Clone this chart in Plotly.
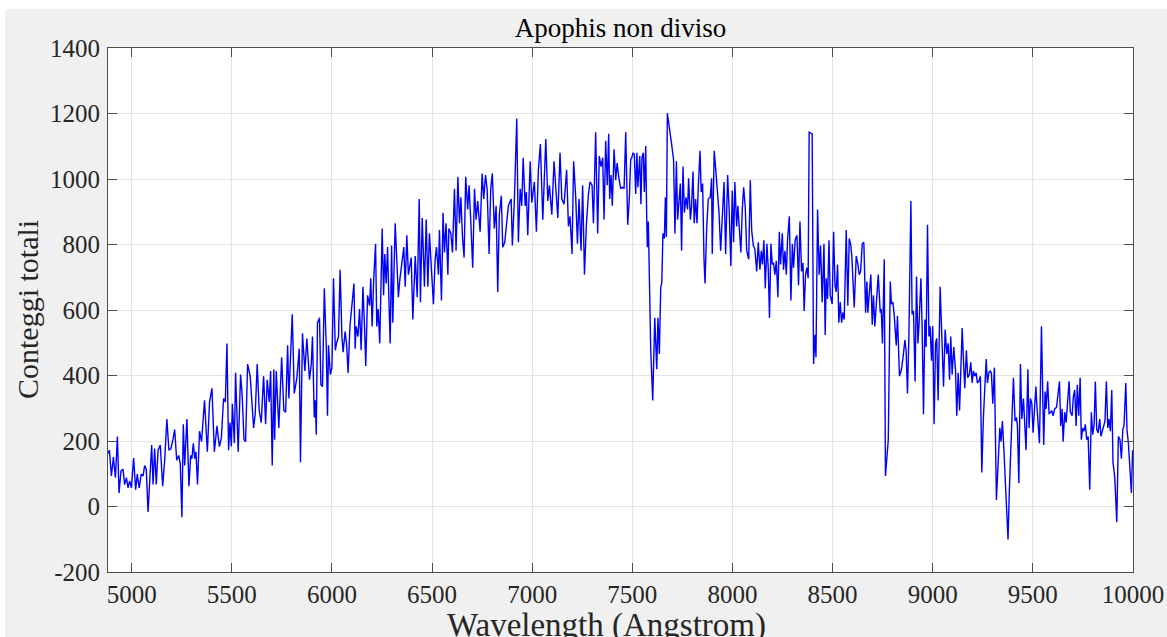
import plotly.graph_objects as go

# (wavelength [Angstrom], total counts), in segments
seg1 = [(4882,162),(4889,172),(4899,93),(4909,151),(4919,88),(4929,214),(4937,41),(4947,109),(4957,114),(4965,67),(4974,88),(4982,57),(4990,78),(4999,57),(5010,148),(5020,51),(5028,99),(5038,57),(5048,99),(5057,93),(5065,125),(5073,114),(5082,-17),(5090,88),(5100,188),(5107,67),(5115,177),(5123,67),(5132,172),(5143,188),(5155,62),(5165,141),(5176,267),(5186,172),(5196,177),(5206,204),(5215,235),(5225,141),(5235,156),(5243,130),(5251,-33),(5258,251),(5265,125),(5276,267),(5286,62),(5295,156),(5301,146),(5308,193),(5315,146),(5321,167),(5329,67),(5339,230),(5349,198),(5364,324),(5378,167),(5389,319)]
seg2 = [(5401,361),(5413,167),(5426,246),(5438,183),(5448,209),(5459,330),(5468,319),(5476,498),(5484,172),(5491,256),(5498,183),(5503,314),(5513,193),(5519,408),(5532,167),(5544,403),(5552,340),(5561,204),(5569,198),(5579,435),(5592,398),(5609,240),(5617,282),(5627,435),(5637,293),(5647,256),(5659,398),(5669,251),(5677,387),(5687,319),(5694,414),(5702,125),(5710,419),(5714,204),(5722,414),(5735,240),(5749,456),(5760,293),(5769,288),(5779,492),(5785,330),(5802,587),(5812,345),(5825,393),(5837,482),(5843,135),(5853,529),(5865,414),(5875,513),(5888,387)]
seg3 = [(5897,435),(5903,519),(5912,272),(5917,324),(5922,219),(5928,561),(5938,576),(5945,372),(5953,366),(5962,666),(5972,487),(5978,277),(5983,492),(5992,403),(6000,424),(6008,697),(6017,477),(6023,498),(6033,519),(6041,723),(6050,519),(6056,471),(6066,534),(6073,498),(6081,408),(6090,550),(6098,608),(6110,681),(6116,482),(6121,550),(6130,519),(6138,603),(6146,477),(6155,671),(6163,545),(6169,429),(6178,645),(6188,613),(6194,697),(6201,550),(6209,697),(6218,802),(6224,550),(6231,603),(6239,498),(6251,849),(6258,645),(6264,771),(6271,681),(6278,792),(6284,645),(6291,498),(6298,797),(6304,561),(6316,865),(6322,771),(6332,639),(6339,692),(6347,734),(6359,792),(6366,671),(6374,828),(6382,708)]
seg4 = [(6396,760),(6404,571),(6416,765),(6426,639),(6436,939),(6442,624),(6451,881),(6462,671),(6471,876),(6479,671),(6487,834),(6496,734),(6507,618),(6515,750),(6522,792),(6532,708),(6537,844),(6547,629),(6555,897),(6562,776),(6570,865),(6579,708),(6584,849),(6594,834),(6602,776),(6612,970),(6620,781),(6629,1007),(6637,865),(6644,944),(6652,823),(6660,760),(6668,1007),(6678,907),(6685,981),(6693,876),(6703,729),(6712,970),(6720,876),(6728,933),(6740,839),(6750,1017),(6758,939),(6767,1012),(6775,970),(6785,771),(6793,970),(6801,1017),(6811,849),(6820,918),(6828,655),(6836,891),(6846,949),(6853,792),(6863,807),(6870,849),(6881,918)]
seg5 = [(6895,939),(6901,797),(6911,933),(6923,1185),(6931,807),(6940,970),(6948,918),(6955,1065),(6965,918),(6971,960),(6978,828),(6990,1054),(6998,928),(7011,991),(7021,839),(7031,1028),(7041,1107),(7053,876),(7068,1122),(7078,933),(7086,981),(7098,891),(7109,1054),(7119,960),(7128,881),(7139,1080),(7148,939),(7159,923),(7172,1028),(7181,855),(7189,886),(7199,771),(7207,1054),(7217,949),(7226,802),(7234,939),(7244,781),(7252,981),(7261,708),(7271,865),(7281,954),(7289,991),(7299,981),(7306,865),(7317,1143),(7327,834),(7335,1070),(7344,1038),(7352,1065),(7359,876),(7367,1117),(7375,981),(7382,1138)]
seg6 = [(7387,939),(7394,1012),(7400,918),(7409,1091),(7417,996),(7424,1049),(7432,1007),(7442,970),(7450,975),(7459,970),(7467,1143),(7477,860),(7485,939),(7492,1059),(7497,1065),(7504,1080),(7510,1075),(7517,954),(7523,1080),(7528,975),(7537,1070),(7543,923),(7548,1065),(7555,1080),(7560,960),(7567,1101),(7572,876),(7575,792),(7580,870),(7585,687),(7592,477),(7602,324),(7612,576),(7622,419),(7628,576),(7635,466),(7642,671),(7647,681),(7653,834),(7660,818),(7665,944),(7670,823),(7675,1201),(7696,1107),(7706,1059),(7713,834),(7720,1054),(7726,876),(7733,928),(7740,986),(7746,781),(7753,1038),(7760,897),(7768,944),(7776,907),(7781,1002),(7790,876),(7796,918),(7803,1023),(7809,865),(7816,939),(7823,865),(7829,970),(7838,1086),(7844,960),(7851,986),(7858,755),(7863,681),(7871,844),(7879,939)]
seg7 = [(7889,944),(7896,1002),(7899,771),(7909,1086),(7918,1017),(7926,939),(7933,897),(7941,781),(7949,902),(7958,991),(7966,771),(7976,1012),(7984,897),(7992,734),(7999,965),(8006,807),(8012,991),(8021,855),(8027,918),(8034,849),(8042,776),(8049,907),(8056,975),(8064,912),(8071,781),(8081,755),(8089,996),(8096,844),(8104,797),(8112,786),(8121,718),(8129,807),(8137,723),(8144,781),(8150,739),(8157,813),(8164,666),(8172,802),(8179,723),(8185,576),(8192,802),(8199,739),(8205,744),(8212,708),(8219,750),(8227,639),(8234,839),(8240,739),(8249,834),(8255,723),(8262,781),(8269,708),(8275,813),(8284,886),(8292,629),(8299,802),(8305,729),(8313,813),(8322,828),(8330,676),(8337,870),(8345,718),(8352,744),(8358,597),(8365,708),(8372,729),(8378,697),(8383,1143)]
seg8 = [(8398,1138),(8405,435),(8412,524),(8417,456),(8425,907),(8433,708),(8440,797),(8448,624),(8457,802),(8463,524),(8468,697),(8475,634),(8482,813),(8488,645),(8498,618),(8505,839),(8512,676),(8518,655),(8525,739),(8531,561),(8538,624),(8545,561),(8551,592),(8558,571),(8568,844),(8576,613),(8583,818),(8590,802),(8596,765),(8608,608),(8618,765),(8625,744),(8633,708),(8640,718),(8648,802),(8656,807),(8665,592),(8671,687),(8676,592),(8683,650),(8691,708),(8698,555),(8704,645),(8711,550),(8719,613),(8728,708),(8738,592),(8743,603),(8749,498),(8758,755),(8764,93),(8778,204),(8788,687),(8794,618),(8801,624),(8808,582),(8818,492),(8824,582),(8834,398),(8844,419),(8852,456),(8861,508),(8867,477),(8874,345),(8881,519)]
seg9 = [(8884,687),(8891,933),(8897,587),(8904,597),(8912,382),(8919,702),(8926,498),(8932,561),(8941,697),(8947,550),(8954,282),(8961,571),(8967,487),(8974,860),(8981,519),(8987,550),(8994,445),(9000,550),(9007,251),(9014,498),(9020,513),(9027,324),(9037,671),(9045,487),(9054,366),(9062,540),(9070,466),(9077,498),(9084,387),(9090,519),(9097,403),(9105,487),(9114,414),(9120,277),(9127,408),(9134,293),(9140,424),(9147,545),(9154,440),(9160,361),(9168,477),(9175,393),(9183,403),(9190,440),(9197,377),(9203,414),(9210,398),(9217,408),(9223,377),(9230,382),(9238,398),(9245,104),(9253,272),(9260,382),(9267,450),(9273,377),(9280,408),(9287,414),(9293,408),(9300,314),(9308,424),(9318,20),(9326,135),(9335,240),(9341,198),(9348,261),(9355,177),(9365,30)]
seg10 = [(9376,-101),(9383,57),(9390,193),(9396,288),(9403,393),(9411,261),(9418,272),(9423,246),(9430,72),(9438,435),(9445,267),(9453,330),(9460,251),(9466,172),(9475,419),(9481,240),(9488,330),(9495,314),(9501,225),(9508,282),(9515,366),(9520,309),(9526,246),(9533,193),(9543,550),(9554,188),(9561,351),(9566,298),(9574,382),(9581,282),(9588,288),(9594,293),(9601,277),(9609,298),(9618,303),(9626,345),(9633,382),(9639,246),(9646,298),(9651,198),(9659,288),(9666,256),(9674,319),(9681,382),(9687,288),(9696,277),(9702,335),(9709,356),(9716,246),(9722,372),(9729,277),(9736,393),(9742,204),(9749,240),(9756,230),(9762,251),(9769,204),(9776,214),(9784,51),(9792,288),(9799,219),(9806,251),(9812,382),(9819,235),(9826,225),(9834,267),(9840,214),(9847,235),(9854,246),(9860,261),(9867,382),(9874,240),(9880,267),(9887,230),(9894,356),(9900,135),(9909,88),(9919,-48),(9927,214),(9935,204),(9942,146),(9949,235),(9955,246),(9964,377),(9970,235),(9977,193),(9985,109),(9992,41),(9998,172)]

segments = [seg1, seg2, seg3, seg4, seg5, seg6, seg7, seg8, seg9, seg10]
wavelength = [p[0] for s in segments for p in s]
counts = [p[1] for s in segments for p in s]

x_ticks = [5000, 5500, 6000, 6500, 7000, 7500, 8000, 8500, 9000, 9500, 10000]
x_tick_text = [str(v) for v in x_ticks]
y_ticks = [-200, 0, 200, 400, 600, 800, 1000, 1200, 1400]
y_tick_text = [str(v) for v in y_ticks]  # plain hyphen minus like the original

FONT = "Liberation Serif"
AX = "#4d4d4d"
TXT = "#262626"

W, H = 1167, 637
ML, MT, PW, PH = 108, 48, 1025, 524

fig = go.Figure()
fig.add_trace(go.Scatter(x=wavelength, y=counts, mode="lines",
                         line=dict(color="#0000ff", width=1.4),
                         showlegend=False, hoverinfo="x+y"))

axis_common = dict(showline=True, linecolor=AX, linewidth=1, mirror="ticks",
                   ticks="inside", ticklen=9, tickcolor=AX, tickwidth=1,
                   showgrid=True, gridcolor="#e4e4e4", gridwidth=1,
                   zeroline=False,
                   tickfont=dict(family=FONT, size=25, color=TXT))

fig.update_layout(
    width=W, height=H, autosize=False,
    margin=dict(l=ML, r=W - ML - PW, t=MT, b=H - MT - PH),
    paper_bgcolor="#f0f0f0", plot_bgcolor="white",
    title=dict(text="Apophis non diviso", x=0.5, xref="paper",
               y=1 - 28 / H, yref="container", yanchor="middle",
               xanchor="center",
               font=dict(family=FONT, size=27, color="#000000")),
    xaxis=dict(range=[4882, 10000], tickvals=x_ticks, ticktext=x_tick_text,
               automargin=False, **axis_common),
    yaxis=dict(range=[-200, 1400], tickvals=y_ticks, ticktext=y_tick_text,
               ticklabelstandoff=2, automargin=False, **axis_common),
    annotations=[
        dict(text="Wavelength (Angstrom)", xref="paper", yref="paper",
             x=(606 - ML) / PW, y=-53 / PH, xanchor="center", yanchor="middle",
             showarrow=False, font=dict(family=FONT, size=33, color=TXT)),
        dict(text="Conteggi totali", xref="paper", yref="paper",
             x=-81 / PW, y=0.5, xanchor="center", yanchor="middle",
             textangle=-90, showarrow=False,
             font=dict(family=FONT, size=30, color=TXT)),
    ],
    shapes=[
        # thin white strips at the top and left edge of the reference picture
        dict(type="rect", xref="paper", yref="paper",
             x0=-ML / PW, x1=(W - ML) / PW, y0=(PH + MT - 9) / PH, y1=(PH + MT) / PH,
             fillcolor="white", line=dict(width=0), layer="below"),
        dict(type="rect", xref="paper", yref="paper",
             x0=-ML / PW, x1=(5 - ML) / PW, y0=-(H - MT - PH) / PH, y1=(PH + MT) / PH,
             fillcolor="white", line=dict(width=0), layer="below"),
    ],
)

fig.write_html("out.html",
               config={"displayModeBar": False},
               post_script="document.body.style.margin='0';"
                           "document.body.style.overflow='hidden';")
